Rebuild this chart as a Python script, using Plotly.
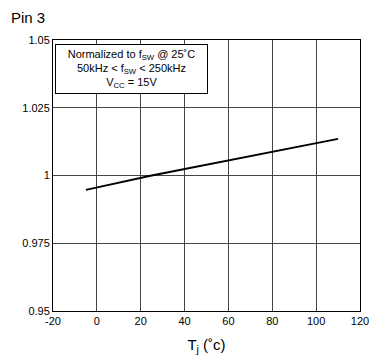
import plotly.graph_objects as go

temps = [-5, 25, 110]
norm_freq = [0.9947, 1.0, 1.0135]
x_ticks = [-20, 0, 20, 40, 60, 80, 100, 120]
x_tick_text = ["-20", "0", "20", "40", "60", "80", "100", "120"]
y_ticks = [0.95, 0.975, 1.0, 1.025, 1.05]
y_tick_text = ["0.95", "0.975", "1", "1.025", "1.05"]

FONT = "Liberation Sans, Arial, sans-serif"

fig = go.Figure()
fig.add_trace(go.Scatter(x=temps, y=norm_freq, mode="lines",
                         line=dict(color="black", width=1.8), showlegend=False))

fig.update_layout(
    width=381, height=363,
    margin=dict(l=53, r=13, t=40, b=48),
    paper_bgcolor="white", plot_bgcolor="white",
    font=dict(family=FONT, color="black", size=11),
    xaxis=dict(range=[-20, 120], tickvals=x_ticks, ticktext=x_tick_text, showgrid=True,
               gridcolor="#444444", gridwidth=1, zeroline=False, showline=True,
               linecolor="black", linewidth=1, mirror=True, ticks="", tickfont=dict(size=11),
               title=dict(text="T<sub>j</sub> (˚c)", font=dict(size=15), standoff=13)),
    yaxis=dict(range=[0.95, 1.05], tickvals=y_ticks, ticktext=y_tick_text, showgrid=True,
               gridcolor="#444444", gridwidth=1, zeroline=False, showline=True,
               linecolor="black", linewidth=1, mirror=True, ticks="", tickfont=dict(size=11)),
    annotations=[
        dict(text="Pin 3", xref="paper", yref="paper", x=(8 - 53) / 315, y=1 + (40 - 17) / 275,
             xanchor="left", yanchor="middle", showarrow=False, font=dict(size=15)),
        dict(text="Normalized to f<sub>SW</sub> @ 25˚C<br>50kHz &lt; f<sub>SW</sub> &lt; 250kHz<br>V<sub>CC</sub> = 15V",
             xref="paper", yref="paper", x=(133.5 - 53) / 315, y=1 - (69 - 40) / 275,
             xanchor="center", yanchor="middle", showarrow=False,
             width=149, height=46, bgcolor="white", bordercolor="black", borderwidth=1,
             font=dict(size=11), align="center"),
    ],
)

fig.write_html("out.html", config={"displayModeBar": False},
               post_script="document.body.style.margin='0';")
